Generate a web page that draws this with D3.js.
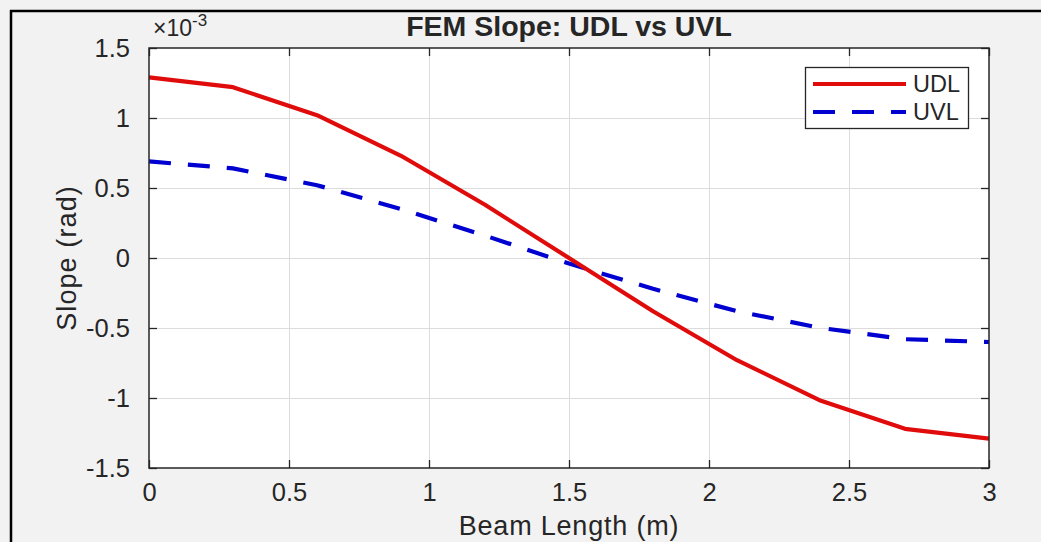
<!DOCTYPE html>
<html>
<head>
<meta charset="utf-8">
<script src="https://cdn.jsdelivr.net/npm/d3@7/dist/d3.min.js"></script>
<style>
  html, body { margin: 0; padding: 0; background: #f2f2f2; }
  svg { display: block; }
  text { font-family: "Liberation Sans", Arial, sans-serif; fill: #262626; }
</style>
</head>
<body>
<svg id="chart" width="1041" height="542"></svg>
<script>
// ---- data (slope values in units of 1e-3 rad) ----
const beamX = [0, 0.3, 0.6, 0.9, 1.2, 1.5, 1.8, 2.1, 2.4, 2.7, 3.0];
const udlSlope = [1.29, 1.22, 1.02, 0.73, 0.38, 0.0, -0.38, -0.73, -1.02, -1.22, -1.29];
const uvlSlope = [0.69, 0.64, 0.52, 0.35, 0.16, -0.04, -0.22, -0.38, -0.50, -0.58, -0.60];
const xTicks = [0, 0.5, 1, 1.5, 2, 2.5, 3];
const yTicks = [-1.5, -1, -0.5, 0, 0.5, 1, 1.5];
const seriesNames = ["UDL", "UVL"];
const titleText = "FEM Slope: UDL vs UVL";
const xLabelText = "Beam Length (m)";
const yLabelText = "Slope (rad)";

const svg = d3.select("#chart");
const W = 1041, H = 542;
const plot = { left: 149, top: 48, right: 989, bottom: 468 };

// figure frame
svg.append("rect").attr("x", 0).attr("y", 0).attr("width", W).attr("height", H).attr("fill", "#f2f2f2");
svg.append("line").attr("x1", 10).attr("x2", W).attr("y1", 11).attr("y2", 11).attr("stroke", "#000").attr("stroke-width", 2.5);
svg.append("line").attr("x1", 11).attr("x2", 11).attr("y1", 10).attr("y2", H).attr("stroke", "#000").attr("stroke-width", 2.5);

const x = d3.scaleLinear().domain([0, 3]).range([plot.left, plot.right]);
const y = d3.scaleLinear().domain([-1.5, 1.5]).range([plot.bottom, plot.top]);
const fmt = d => String(d);

// axes background
svg.append("rect").attr("x", plot.left).attr("y", plot.top)
  .attr("width", plot.right - plot.left).attr("height", plot.bottom - plot.top).attr("fill", "#fff");

// grid
const grid = svg.append("g").attr("stroke", "#dcdcdc").attr("stroke-width", 1);
grid.selectAll(".gx").data(xTicks.slice(1, -1)).join("line")
  .attr("x1", d => Math.round(x(d)) + 0.5).attr("x2", d => Math.round(x(d)) + 0.5)
  .attr("y1", plot.top).attr("y2", plot.bottom);
grid.selectAll(".gy").data(yTicks.slice(1, -1)).join("line")
  .attr("y1", d => Math.round(y(d)) + 0.5).attr("y2", d => Math.round(y(d)) + 0.5)
  .attr("x1", plot.left).attr("x2", plot.right);

// lines
const line = d3.line().x(d => x(d[0])).y(d => y(d[1]));
svg.append("path").datum(beamX.map((b, i) => [b, uvlSlope[i]]))
  .attr("d", line).attr("fill", "none").attr("stroke", "#0000d0").attr("stroke-width", 4.2)
  .attr("stroke-dasharray", "22,17");
svg.append("path").datum(beamX.map((b, i) => [b, udlSlope[i]]))
  .attr("d", line).attr("fill", "none").attr("stroke", "#e00c0c").attr("stroke-width", 4.2)
  .attr("stroke-linejoin", "round");

// axes (ticks inside, all four sides)
const tickLen = 8;
const axisColor = "#262626";
function styleAxis(g) {
  g.select(".domain").remove();
  g.selectAll(".tick line").attr("stroke", axisColor).attr("stroke-width", 1.3);
}
const xAxisB = svg.append("g").attr("transform", `translate(0,${plot.bottom})`)
  .call(d3.axisBottom(x).tickValues(xTicks).tickSizeInner(-tickLen).tickSizeOuter(0).tickPadding(15).tickFormat(fmt));
styleAxis(xAxisB);
xAxisB.attr("font-size", 25.5).attr("font-family", "Liberation Sans, Arial, sans-serif");
xAxisB.selectAll(".tick text").attr("fill", axisColor);
const xAxisT = svg.append("g").attr("transform", `translate(0,${plot.top})`)
  .call(d3.axisTop(x).tickValues(xTicks).tickSizeInner(-tickLen).tickSizeOuter(0).tickFormat(""));
styleAxis(xAxisT);
const yAxisL = svg.append("g").attr("transform", `translate(${plot.left},0)`)
  .call(d3.axisLeft(y).tickValues(yTicks).tickSizeInner(-tickLen).tickSizeOuter(0).tickPadding(19).tickFormat(fmt));
styleAxis(yAxisL);
yAxisL.attr("font-size", 25.5).attr("font-family", "Liberation Sans, Arial, sans-serif");
yAxisL.selectAll(".tick text").attr("fill", axisColor);
const yAxisR = svg.append("g").attr("transform", `translate(${plot.right},0)`)
  .call(d3.axisRight(y).tickValues(yTicks).tickSizeInner(-tickLen).tickSizeOuter(0).tickFormat(""));
styleAxis(yAxisR);

// box
svg.append("rect").attr("x", plot.left).attr("y", plot.top)
  .attr("width", plot.right - plot.left).attr("height", plot.bottom - plot.top)
  .attr("fill", "none").attr("stroke", axisColor).attr("stroke-width", 1.5);

// exponent label
const mult = svg.append("text").attr("x", 153).attr("y", 36).attr("font-size", 23);
mult.append("tspan").text("\u00d710");
mult.append("tspan").attr("dy", -10).attr("font-size", 17).text("-3");

// title
svg.append("text").attr("x", (plot.left + plot.right) / 2).attr("y", 36)
  .attr("text-anchor", "middle").attr("font-size", 28.5).attr("font-weight", "bold")
  .attr("fill", "#1a1a1a").text(titleText);

// axis labels
svg.append("text").attr("x", (plot.left + plot.right) / 2).attr("y", 535)
  .attr("text-anchor", "middle").attr("font-size", 27).attr("letter-spacing", 0.8).text(xLabelText);
svg.append("text").attr("transform", `translate(76,${(plot.top + plot.bottom) / 2}) rotate(-90)`)
  .attr("text-anchor", "middle").attr("font-size", 27).attr("letter-spacing", 1.1).text(yLabelText);

// legend
const lg = svg.append("g");
lg.append("rect").attr("x", 805.5).attr("y", 67.5).attr("width", 163).attr("height", 61)
  .attr("fill", "#fff").attr("stroke", axisColor).attr("stroke-width", 1.3);
const legendColors = ["#e00c0c", "#0000d0"];
const legendDash = [null, "22,17"];
seriesNames.forEach((name, i) => {
  const ly = 84 + i * 28;
  lg.append("line").attr("x1", 813).attr("x2", 906).attr("y1", ly).attr("y2", ly)
    .attr("stroke", legendColors[i]).attr("stroke-width", 4.2)
    .attr("stroke-dasharray", legendDash[i]);
  lg.append("text").attr("x", 913).attr("y", ly + 8).attr("font-size", 23.5).text(name);
});
</script>
</body>
</html>
